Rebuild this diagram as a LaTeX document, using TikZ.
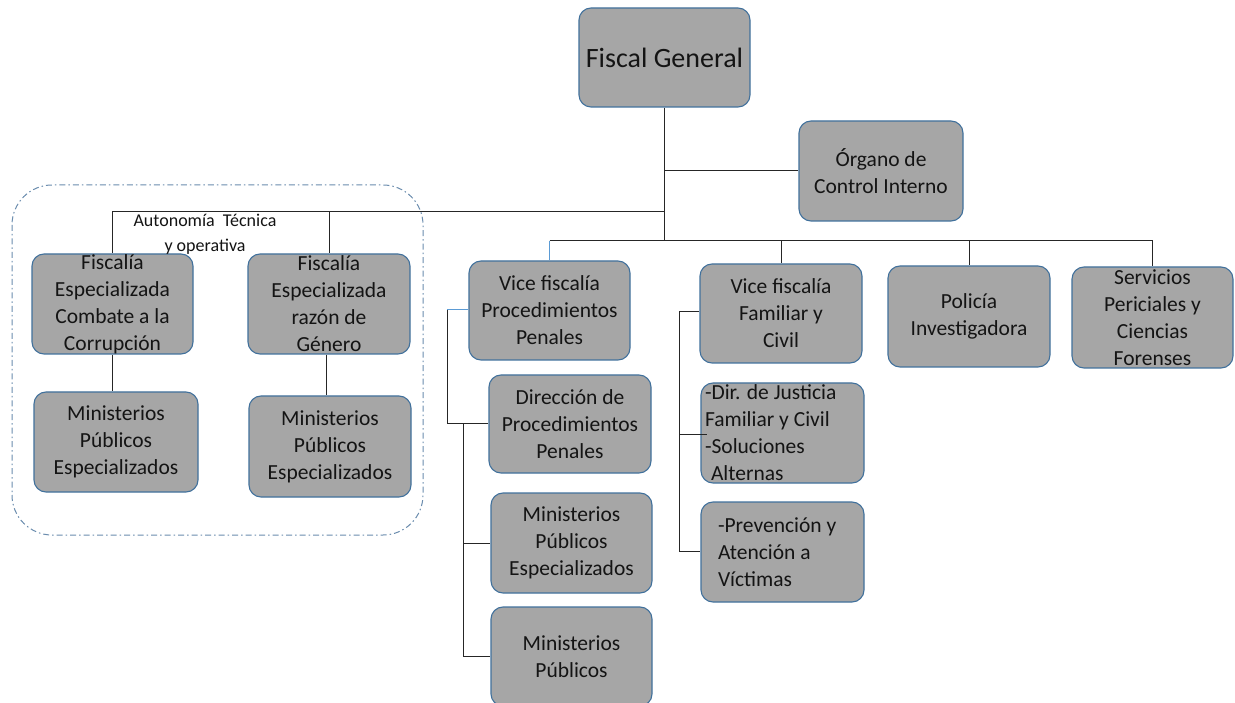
\documentclass[tikz,border=0pt]{standalone}
\usepackage{fontspec}
\setmainfont{Carlito}
\definecolor{boxfill}{HTML}{A6A6A6}
\definecolor{boxline}{HTML}{41719C}
\definecolor{lightblue}{HTML}{5B9BD5}
\definecolor{dashblue}{HTML}{6A8CAE}
\definecolor{txt}{HTML}{141414}
\tikzset{
  orgbox/.style={draw=boxline, fill=boxfill, line width=1.1pt, rounded corners=12pt,
    align=center, inner sep=0pt, text=txt, font=\fontsize{21.5}{27}\selectfont},
  conn/.style={draw=black!85, line width=1pt},
  bconn/.style={draw=lightblue, line width=1pt},
}
\begin{document}
\begin{tikzpicture}[x=1pt,y=-1pt]
\useasboundingbox (0,0) rectangle (1235,703);
\fill[white] (0,0) rectangle (1235,703);
% dashed autonomy region
\draw[dashblue, line width=1pt, dash pattern=on 6pt off 3pt on 1.5pt off 3pt, rounded corners=40pt]
  (12,185) rectangle (423,535);
% boxes
\node[orgbox, minimum width=171pt, minimum height=99pt, font=\fontsize{28}{32}\selectfont] (fg) at (664.5,57.5) {Fiscal General};
\node[orgbox, minimum width=164pt, minimum height=100pt] (oci) at (881,171) {Órgano de\\Control Interno};
\node[orgbox, minimum width=161pt, minimum height=100pt] (fec) at (112.5,304) {Fiscalía\\Especializada\\Combate a la\\Corrupción};
\node[orgbox, minimum width=164pt, minimum height=100pt] (mpe1) at (116,442) {Ministerios\\Públicos\\Especializados};
\node[orgbox, minimum width=162pt, minimum height=100pt] (frg) at (329,304) {Fiscalía\\Especializada\\razón de\\Género};
\node[orgbox, minimum width=162pt, minimum height=101pt] (mpe2) at (330,446.5) {Ministerios\\Públicos\\Especializados};
\node[orgbox, minimum width=161pt, minimum height=99pt] (vpp) at (549.5,310.5) {Vice fiscalía\\Procedimientos\\Penales};
\node[orgbox, minimum width=162pt, minimum height=98pt] (dpp) at (570,424) {Dirección de\\Procedimientos\\Penales};
\node[orgbox, minimum width=161pt, minimum height=100pt] (mpe3) at (571.5,543) {Ministerios\\Públicos\\Especializados};
\node[orgbox, minimum width=161pt, minimum height=99pt] (mp) at (571.5,656.5) {Ministerios\\Públicos};
\node[orgbox, minimum width=162pt, minimum height=99pt] (vfc) at (781,313.5) {Vice fiscalía\\Familiar y\\Civil};
\node[orgbox, minimum width=163pt, minimum height=100pt, align=flush left, text width=155pt] (djf) at (782.5,433) {-Dir. de Justicia\\Familiar y Civil\\-Soluciones\\\hspace*{6pt}Alternas};
\node[orgbox, minimum width=163pt, minimum height=100pt, align=flush left, text width=129pt] (pav) at (782.5,552) {-Prevención y\\Atención a\\Víctimas};
\node[orgbox, minimum width=162pt, minimum height=101pt] (pol) at (969,316.5) {Policía\\Investigadora};
\node[orgbox, minimum width=161pt, minimum height=101pt] (spc) at (1152.5,317.5) {Servicios\\Periciales y\\Ciencias\\Forenses};
% text label
\node[text=txt, font=\fontsize{18}{25}\selectfont, align=center, inner sep=0pt] (auto) at (205,234) {Autonomía\ \ Técnica\\y operativa};
% junction coordinates
\coordinate (j1) at (fg.south |- 0,171);
\coordinate (j2) at (fg.south |- 0,212);
\coordinate (j3) at (fg.south |- 0,241);
\coordinate (a1) at (fec.north |- j2);
\coordinate (a2) at (frg.north |- j2);
\coordinate (b1) at (vpp.north |- j3);
\coordinate (b2) at (vfc.north |- j3);
\coordinate (b3) at (pol.north |- j3);
\coordinate (b4) at (spc.north |- j3);
% connectors
\draw[conn] (fg.south) -- (j3);
\draw[conn] (j1) -- (oci.west);
\draw[conn] (j2) -- (a1) -- (fec.north);
\draw[conn] (a2) -- (frg.north);
\draw[conn] (b1) -- (b4) -- (spc.north);
\draw[bconn] (b1) -- (vpp.north);
\draw[conn] (b2) -- (vfc.north);
\draw[conn] (b3) -- (pol.north);
\draw[conn] (fec.south) -- (mpe1.north -| fec.south);
\draw[conn] ([xshift=-3pt]frg.south) -- ([xshift=-4pt]mpe2.north);
% vice fiscalia procedimientos branch
\coordinate (c1) at (447,310);
\coordinate (c2) at (447,423);
\coordinate (c3) at (463,423);
\coordinate (c4) at (463,656);
\draw[bconn] (vpp.west |- c1) -- (c1);
\draw[conn] (c1) -- (c2) -- (dpp.west |- c2);
\draw[conn] (c3) -- (c4) -- (mp.west |- c4);
\draw[conn] (c3 |- mpe3.west) -- (mpe3.west);
% vice fiscalia familiar branch
\coordinate (d1) at (679,312);
\coordinate (d2) at (679,551);
\draw[conn] (vfc.west |- d1) -- (d1) -- (d2) -- (pav.west |- d2);
\draw[conn] (d1 |- 0,434) -- (707,434);
\end{tikzpicture}
\end{document}
